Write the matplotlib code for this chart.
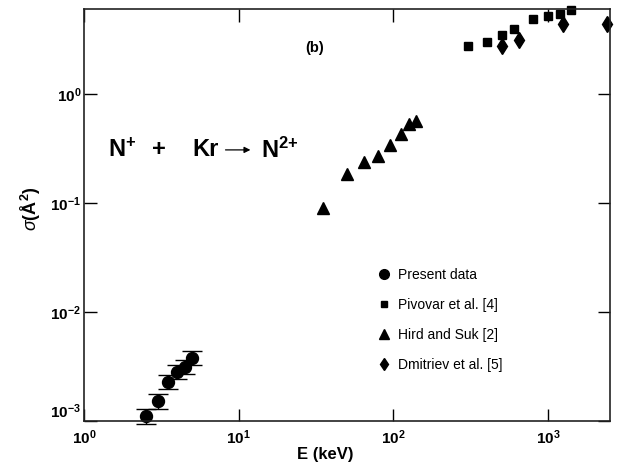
import matplotlib
matplotlib.use("Agg")
import matplotlib.pyplot as plt
from matplotlib.lines import Line2D
import numpy as np

plt.rcParams['font.family'] = ['Liberation Sans', 'DejaVu Sans']
plt.rcParams['mathtext.fontset'] = 'custom'
plt.rcParams['mathtext.rm'] = 'Liberation Sans'
plt.rcParams['mathtext.bf'] = 'Liberation Sans:bold'
plt.rcParams['mathtext.it'] = 'Liberation Sans:italic'

# Present data (with error bars)
present_E = [2.5, 3.0, 3.5, 4.0, 4.5, 5.0]
present_sigma = [1.11e-3, 1.53e-3, 2.29e-3, 2.83e-3, 3.16e-3, 3.8e-3]
present_relerr = 0.15

# Pivovar et al. [4]
pivovar_E = [305, 406, 505, 607, 804, 1000, 1195, 1400]
pivovar_sigma = [2.76, 2.96, 3.44, 3.9, 4.9, 5.19, 5.41, 5.93]

# Hird and Suk [2]
hird_E = [35, 50, 65, 80, 95, 112, 126, 141]
hird_sigma = [0.089, 0.186, 0.238, 0.269, 0.34, 0.426, 0.53, 0.565]

# Dmitriev et al. [5]
dmitriev_E = [507, 650, 1256, 2400]
dmitriev_sigma = [2.72, 3.09, 4.38, 4.34]

xticks = [1, 10, 100, 1000]
xticklabels = [r'$\mathbf{10^{0}}$', r'$\mathbf{10^{1}}$', r'$\mathbf{10^{2}}$', r'$\mathbf{10^{3}}$']
yticks = [1e-3, 1e-2, 1e-1, 1]
yticklabels = [r'$\mathbf{10^{-3}}$', r'$\mathbf{10^{-2}}$', r'$\mathbf{10^{-1}}$', r'$\mathbf{10^{0}}$']

fig = plt.figure(figsize=(6.21, 4.68), dpi=100)
ax = fig.add_axes([84/621, 1 - 421/468, 525.5/621, 412/468])
ax.set_xscale('log')
ax.set_yscale('log')
ax.set_xlim(1, 2500)
ax.set_ylim(1e-3, 6.0)

ps = np.array(present_sigma)
ax.errorbar(present_E, present_sigma, yerr=present_relerr * ps, fmt='o', color='black',
            ms=8.6, capsize=7, elinewidth=1.0, capthick=1.0, clip_on=False)
ax.plot(pivovar_E, pivovar_sigma, 's', color='black', ms=6.3, clip_on=False)
ax.plot(hird_E, hird_sigma, '^', color='black', ms=8, clip_on=False)
ax.plot(dmitriev_E, dmitriev_sigma, 'd', color='black', ms=8.5, clip_on=False)

ax.set_xticks(xticks)
ax.set_xticklabels(xticklabels)
ax.set_yticks(yticks)
ax.set_yticklabels(yticklabels)
ax.minorticks_off()
ax.tick_params(axis='both', which='major', direction='in', length=9, width=1.0,
               labelsize=11, top=True, right=True, color='black')
ax.tick_params(axis='x', pad=5)
ax.tick_params(axis='y', pad=2)
ax.get_yticklabels()[0].set_va('bottom')
for s in ax.spines.values():
    s.set_linewidth(1.2)
    s.set_color('#222222')

ax.set_xlabel('E (keV)', fontsize=12, fontweight='bold')
ax.xaxis.set_label_coords((325 - 84) / 525.5, -0.062)
ax.set_ylabel(r'$\sigma$' + r'$\mathbf{(Å^{2})}$', fontsize=13)
ax.yaxis.set_label_coords(-0.078, 0.515)

ax.text(0.438, 0.905, '(b)', transform=ax.transAxes, fontsize=10.5, fontweight='bold',
        ha='center', va='center')

# reaction label
fs = 17
ax.text(0.046, 0.658, r'$\mathbf{N^{+}}$', transform=ax.transAxes, fontsize=fs, ha='left', va='center')
ax.text(0.143, 0.658, '+', transform=ax.transAxes, fontsize=fs, fontweight='bold', ha='center', va='center')
ax.text(0.207, 0.658, 'Kr', transform=ax.transAxes, fontsize=fs, fontweight='bold', ha='left', va='center')
ax.annotate('', xy=(0.322, 0.658), xytext=(0.264, 0.658), xycoords='axes fraction',
            arrowprops=dict(arrowstyle='-|>', color='black', lw=0.9, mutation_scale=9))
ax.text(0.336, 0.658, r'$\mathbf{N^{2{+}}}$', transform=ax.transAxes, fontsize=fs, ha='left', va='center')

handles = [
    Line2D([], [], ls='none', marker='o', color='black', ms=7),
    Line2D([], [], ls='none', marker='s', color='black', ms=4.5),
    Line2D([], [], ls='none', marker='^', color='black', ms=6.5),
    Line2D([], [], ls='none', marker='d', color='black', ms=6.5),
]
labels = ['Present data', 'Pivovar et al. [4]', 'Hird and Suk [2]', 'Dmitriev et al. [5]']
leg = ax.legend(handles, labels, loc='upper left', bbox_to_anchor=(0.55, 0.385), frameon=False,
                fontsize=10, handlelength=0.8, handletextpad=0.6, labelspacing=1.15,
                borderaxespad=0)

fig.savefig('out.png', dpi=100)
